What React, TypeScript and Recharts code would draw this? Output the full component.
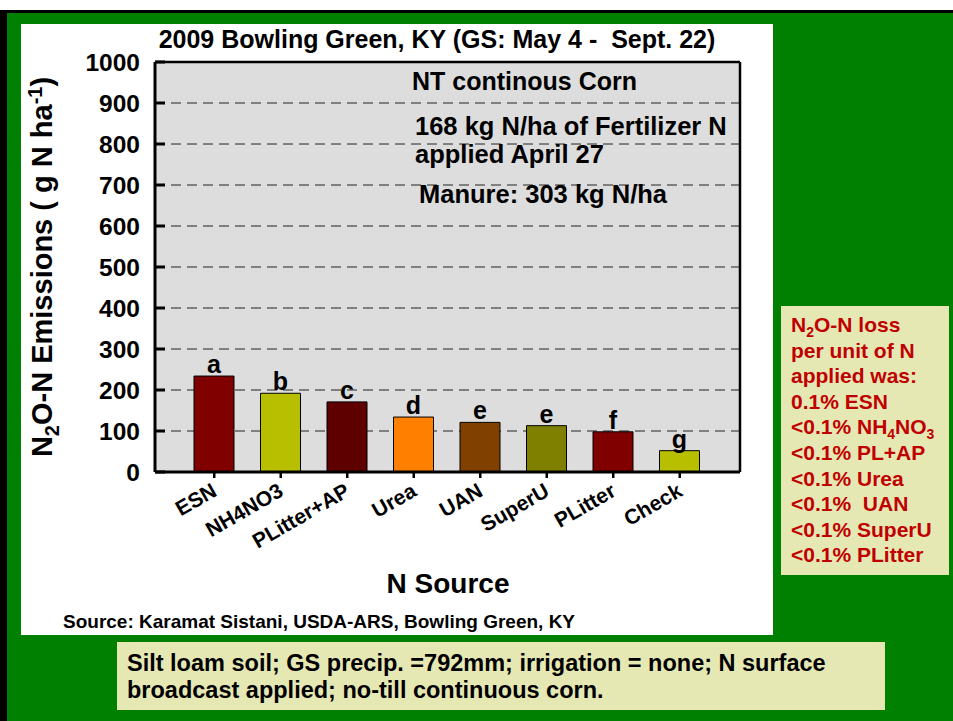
import React from 'react';
import { BarChart, Bar, XAxis, YAxis, CartesianGrid, ReferenceLine, LabelList, Cell } from 'recharts';

const categories = ['ESN', 'NH4NO3', 'PLitter+AP', 'Urea', 'UAN', 'SuperU', 'PLitter', 'Check'];
const emissions = [234, 192, 171, 134, 121, 113, 98, 52];
const letters = ['a', 'b', 'c', 'd', 'e', 'e', 'f', 'g'];
const barColors = ['#800000', '#b8bf00', '#5e0000', '#ff8000', '#804000', '#808000', '#800000', '#b8bf00'];
const yTicks = [0, 100, 200, 300, 400, 500, 600, 700, 800, 900, 1000];

const lossLines = ['0.1% ESN', '<0.1% PL+AP', '<0.1% Urea', '<0.1%  UAN', '<0.1% SuperU', '<0.1% PLitter'];

const data = categories.map((name, i) => ({ name, value: emissions[i], letter: letters[i] }));

const FONT = '"Liberation Sans", Arial, Helvetica, sans-serif';
const PALE = '#e6e8b4';
const RED = '#c00000';

const LeftTick = (props: any) => {
  const { x, y, payload } = props;
  return (
    <g>
      <line x1={x} y1={y} x2={x + 10} y2={y} stroke="#000" strokeWidth={3} />
      <text x={x - 15} y={y} dy={8.5} textAnchor="end" fontSize={24.5} fontWeight="bold" fontFamily={FONT} fill="#000">
        {payload.value}
      </text>
    </g>
  );
};

const RightTick = (props: any) => {
  const { x, y } = props;
  return <line x1={x} y1={y} x2={x - 10} y2={y} stroke="#000" strokeWidth={3} />;
};

const XTick = (props: any) => {
  const { x, y, payload } = props;
  const ax = x + 4;
  const ay = y + 17;
  return (
    <text x={ax} y={ay} transform={`rotate(-30, ${ax}, ${ay})`} textAnchor="end" fontSize={21} fontWeight="bold" fontFamily={FONT} fill="#000">
      {payload.value}
    </text>
  );
};

export default function App() {
  const lineY = (i: number) => 332 + i * 25.6;
  return (
    <div style={{ position: 'absolute', left: 0, top: 0, width: 953, height: 721, background: '#fff', overflow: 'hidden' }}>
      {/* slide frame */}
      <div style={{ position: 'absolute', left: 0, top: 10, width: 953, height: 711, background: '#000' }} />
      <div style={{ position: 'absolute', left: 7, top: 13, width: 946, height: 708, background: '#008000' }} />
      <div style={{ position: 'absolute', left: 21, top: 24, width: 752, height: 611, background: '#fff' }} />
      <div style={{ position: 'absolute', left: 781, top: 306, width: 168, height: 269, background: PALE }} />
      <div style={{ position: 'absolute', left: 117, top: 642, width: 768, height: 68, background: PALE }} />

      <div style={{ position: 'absolute', left: 0, top: 0 }}>
        <BarChart width={953} height={721} data={data} margin={{ top: 62, right: 203, bottom: 219, left: 95 }}>
          <CartesianGrid yAxisId="left" vertical={false} stroke="#222" strokeDasharray="10 6" fill="#dddddd" fillOpacity={1} />
          <XAxis
            dataKey="name"
            height={30}
            padding={{ left: 26, right: 27 }}
            axisLine={{ stroke: '#000', strokeWidth: 3 }}
            tickLine={{ stroke: '#000', strokeWidth: 2.5 }}
            tickSize={6}
            tickMargin={0}
            interval={0}
            tick={<XTick />}
          />
          <YAxis
            yAxisId="left"
            width={60}
            domain={[0, 1000]}
            ticks={yTicks}
            interval={0}
            axisLine={{ stroke: '#000', strokeWidth: 3 }}
            tickLine={false}
            tickSize={0}
            tickMargin={0}
            tick={<LeftTick />}
          />
          <YAxis
            yAxisId="right"
            orientation="right"
            width={10}
            domain={[0, 1000]}
            ticks={yTicks}
            interval={0}
            axisLine={{ stroke: '#000', strokeWidth: 2.5 }}
            tickLine={false}
            tickSize={0}
            tickMargin={0}
            tick={<RightTick />}
          />
          <ReferenceLine yAxisId="left" y={1000} stroke="#000" strokeWidth={2.5} />
          <Bar yAxisId="left" dataKey="value" barSize={40} stroke="#000" strokeWidth={1} isAnimationActive={false}>
            {data.map((d, i) => (
              <Cell key={d.name} fill={barColors[i]} />
            ))}
            <LabelList dataKey="letter" position="top" offset={3} fontSize={25} fontWeight="bold" fontFamily={FONT} fill="#000" />
          </Bar>
        </BarChart>
      </div>

      <svg width={953} height={721} style={{ position: 'absolute', left: 0, top: 0, pointerEvents: 'none' }} fontFamily={FONT} fontWeight="bold">
        <text x={437} y={48} textAnchor="middle" fontSize={25} fill="#000">
          2009 Bowling Green, KY (GS: May 4 -{'\u00a0\u00a0'}Sept. 22)
        </text>

        <text x={412} y={90} fontSize={25} fill="#000">NT continous Corn</text>
        <text x={415} y={135} fontSize={25.5} fill="#000">168 kg N/ha of Fertilizer N</text>
        <text x={415} y={163} fontSize={25.5} fill="#000">applied April 27</text>
        <text x={419} y={203} fontSize={25.5} fill="#000">Manure: 303 kg N/ha</text>

        <text transform="translate(52, 267) rotate(-90)" textAnchor="middle" fontSize={29} fill="#000">
          N<tspan dy={7} fontSize={20}>2</tspan>
          <tspan dy={-7}>O-N Emissions ( g N ha</tspan>
          <tspan dy={-10} fontSize={20}>-1</tspan>
          <tspan dy={10}>)</tspan>
        </text>

        <text x={448} y={593} textAnchor="middle" fontSize={28} fill="#000">N Source</text>
        <text x={63} y={628} fontSize={19} fill="#000">Source: Karamat Sistani, USDA-ARS, Bowling Green, KY</text>

        <text x={127} y={671} fontSize={23.5} fill="#000">Silt loam soil; GS precip. =792mm; irrigation = none; N surface</text>
        <text x={127} y={698} fontSize={23.5} fill="#000">broadcast applied; no-till continuous corn.</text>

        <g fontSize={21} fill={RED}>
          <text x={791} y={lineY(0)}>
            N<tspan dy={5} fontSize={14}>2</tspan>
            <tspan dy={-5}>O-N loss</tspan>
          </text>
          <text x={791} y={lineY(1)}>per unit of N</text>
          <text x={791} y={lineY(2)}>applied was:</text>
          <text x={791} y={lineY(3)}>{lossLines[0]}</text>
          <text x={791} y={lineY(4)}>
            {'<0.1% NH'}
            <tspan dy={5} fontSize={14}>4</tspan>
            <tspan dy={-5}>NO</tspan>
            <tspan dy={5} fontSize={14}>3</tspan>
          </text>
          {lossLines.slice(1).map((t, i) => (
            <text key={t} x={791} y={lineY(5 + i)} style={{ whiteSpace: 'pre' }}>{t}</text>
          ))}
        </g>
      </svg>
    </div>
  );
}
